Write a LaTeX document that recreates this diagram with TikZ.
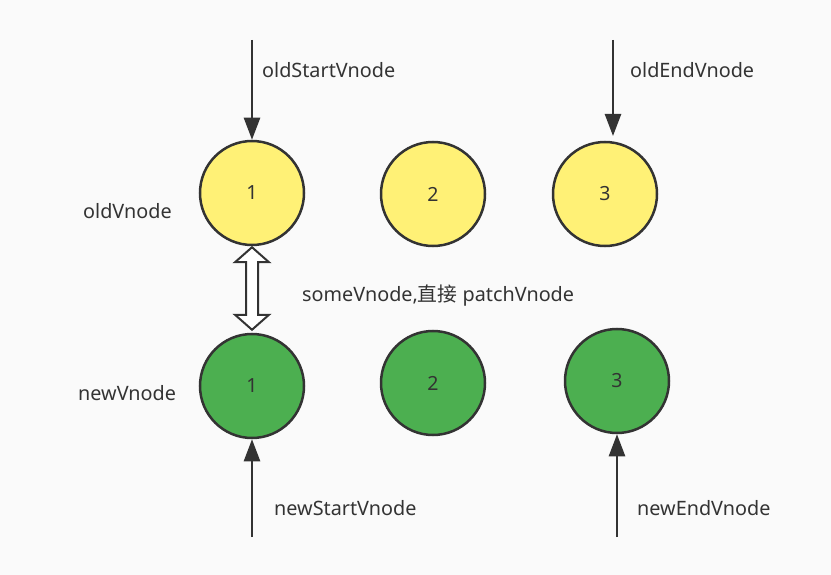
\documentclass[tikz,border=0pt]{standalone}
\usepackage{fontspec}
\setmainfont{Noto Sans}
\newfontfamily\cjk{Noto Sans CJK SC}
\usetikzlibrary{arrows.meta,calc}
\definecolor{bg}{RGB}{250,250,250}
\definecolor{ink}{RGB}{51,51,51}
\definecolor{oldfill}{RGB}{255,241,118}
\definecolor{newfill}{RGB}{76,175,80}
\tikzset{
  vnode/.style={circle, draw=ink, line width=2.5pt, minimum size=104pt, inner sep=0pt, font=\fontsize{19.5}{22}\selectfont, text=ink},
  oldv/.style={vnode, fill=oldfill},
  newv/.style={vnode, fill=newfill},
  ptr/.style={draw=ink, line width=2.5pt, -{Triangle[length=22pt,width=16pt]}},
  lbl/.style={anchor=west, inner sep=0pt, font=\fontsize{19.8}{22}\selectfont, text=ink},
}
\begin{document}
\begin{tikzpicture}[x=1pt,y=-1pt]
\useasboundingbox (0,0) rectangle (831,575);
\fill[bg] (0,0) rectangle (831,575);
% old vnodes
\node[oldv] (o1) at (252,193) {1};
\node[oldv] (o2) at (433,194) {2};
\node[oldv] (o3) at (605,194) {3};
% new vnodes
\node[newv] (n1) at (252,386) {1};
\node[newv] (n2) at (433,383) {2};
\node[newv] (n3) at (617,381) {3};
% pointer ends
\coordinate (os) at (252,40);
\coordinate (oe) at (613,40);
\coordinate (oeT) at (613,136);
\coordinate (ns) at (252,537);
\coordinate (ne) at (617,537);
\draw[ptr] (os) -- (o1.north);
\draw[ptr] (oe) -- (oeT);
\draw[ptr] (ns) -- (n1.south);
\draw[ptr] (ne) -- (n3.south);
% labels
\node[lbl] (lOS) at (262,70) {oldStartVnode};
\node[lbl] (lOE) at (630,70) {oldEndVnode};
\node[lbl] (lOV) at (83,211) {oldVnode};
\node[lbl] (lNV) at (78,393) {newVnode};
\node[lbl] (lSV) at (302,296) {someVnode,{\cjk 直接} patchVnode};
\node[lbl] (lNS) at (274,508) {newStartVnode};
\node[lbl] (lNE) at (637,508) {newEndVnode};
% hollow double arrow
\coordinate (dt) at ($(o1.south)+(0,1)$);
\coordinate (db) at ($(n1.north)+(0,-3)$);
\draw[ink, fill=white, line width=2pt, line join=miter]
  (dt) -- ($(dt)+(17,15)$) -- ($(dt)+(6,15)$) -- ($(db)+(6,-15)$) -- ($(db)+(17,-15)$)
  -- (db) -- ($(db)+(-17,-15)$) -- ($(db)+(-6,-15)$) -- ($(dt)+(-6,15)$) -- ($(dt)+(-17,15)$) -- cycle;
\end{tikzpicture}
\end{document}
